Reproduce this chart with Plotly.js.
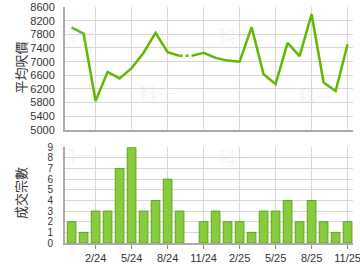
<!DOCTYPE html>
<html>
<head>
<meta charset="utf-8">
<script src="https://cdn.plot.ly/plotly-3.0.1.min.js"></script>
<style>html,body{margin:0;padding:0;background:#fff;}#chart{width:360px;height:270px;}</style>
</head>
<body>
<div id="chart"></div>
<script>
var months = ['12/23','1/24','2/24','3/24','4/24','5/24','6/24','7/24','8/24','9/24','10/24','11/24',
              '12/24','1/25','2/25','3/25','4/25','5/25','6/25','7/25','8/25','9/25','10/25','11/25'];
var price = [8000,7820,5850,6700,6510,6810,7260,7840,7280,7170,7170,7260,
             7110,7030,7000,8010,6630,6340,7550,7160,8390,6390,6140,7510];
var volume = [2,1,3,3,7,9,3,4,6,3,0,2,3,2,2,1,3,3,4,2,4,2,1,2];
var tickMonths = ['2/24','5/24','8/24','11/24','2/25','5/25','8/25','11/25'];
var priceTicks = [5000,5400,5800,6200,6600,7000,7400,7800,8200,8600];
var volumeTicks = [0,1,2,3,4,5,6,7,8,9];
var estIndex = 10; // month with no transactions (dotted link)

var idx = months.map(function(_, i){ return i; });
var tickIdx = tickMonths.map(function(m){ return months.indexOf(m); });

var lineColor = '#62b800';
var solid1X = idx.slice(0, estIndex), solid1Y = price.slice(0, estIndex);
var dotX = idx.slice(estIndex-1, estIndex+1), dotY = price.slice(estIndex-1, estIndex+1);
var solid2X = idx.slice(estIndex), solid2Y = price.slice(estIndex);

var traces = [
  {x: solid1X, y: solid1Y, type:'scatter', mode:'lines', line:{color:lineColor, width:2.5}, xaxis:'x', yaxis:'y', hoverinfo:'skip'},
  {x: dotX, y: dotY, type:'scatter', mode:'lines', line:{color:lineColor, width:2.5, dash:'dot'}, xaxis:'x', yaxis:'y', hoverinfo:'skip'},
  {x: solid2X, y: solid2Y, type:'scatter', mode:'lines', line:{color:lineColor, width:2.5}, xaxis:'x', yaxis:'y', hoverinfo:'skip'},
  {x: idx, y: volume, type:'bar', width:0.72,
   marker:{color:'#86cc3c', line:{color:'#5ea418', width: volume.map(function(v){ return v > 0 ? 1 : 0; })}},
   xaxis:'x2', yaxis:'y2', hoverinfo:'skip'}
];

var fontFam = 'Liberation Sans, Arial, sans-serif';
var xRange = [-0.55, 23.45];
var wm = [[77,33],[157,93],[236,35],[316,96],[77,155],[157,210],[236,157],[316,213]];
var annotations = wm.map(function(p){
  return {text:'科一', xref:'paper', yref:'paper', x:(p[0]-65)/288, y:(243-p[1])/236,
          showarrow:false, font:{size:18, color:'rgba(180,180,180,0.15)', family:'Noto Sans CJK TC'}, xanchor:'center', yanchor:'middle'};
});
annotations.push({text:'平均呎價', xref:'paper', yref:'paper', x:(20-65)/288, y:(243-67.5)/236, textangle:-90,
  showarrow:false, font:{size:13, color:'#333', family:'Noto Sans CJK TC'}, xanchor:'center', yanchor:'middle'});
annotations.push({text:'成交宗數', xref:'paper', yref:'paper', x:(20-65)/288, y:(243-193)/236, textangle:-90,
  showarrow:false, font:{size:13, color:'#333', family:'Noto Sans CJK TC'}, xanchor:'center', yanchor:'middle'});

var layout = {
  width:360, height:270,
  margin:{l:65, r:7, t:7, b:27},
  paper_bgcolor:'#fff', plot_bgcolor:'#fff',
  showlegend:false,
  font:{family:fontFam, size:11, color:'#333'},
  xaxis:{domain:[0,1], anchor:'y', range:xRange, tickvals:tickIdx, ticktext:tickMonths, showticklabels:false,
         showgrid:true, gridcolor:'#d8d8d8', gridwidth:1, zeroline:false, showline:true, linecolor:'#aaaaaa', linewidth:2, ticks:''},
  yaxis:{domain:[0.479,1], anchor:'x', range:[5000,8600], tickvals:priceTicks, ticktext:priceTicks.map(String),
         showgrid:true, gridcolor:'#d8d8d8', gridwidth:1, zeroline:false, showline:true, linecolor:'#aaaaaa', linewidth:2,
         ticks:'outside', ticklen:6, tickcolor:'rgba(0,0,0,0)', tickfont:{size:11, color:'#333'}},
  xaxis2:{domain:[0,1], anchor:'y2', range:xRange, tickvals:tickIdx, ticktext:tickMonths,
          showgrid:true, gridcolor:'#d8d8d8', gridwidth:1, zeroline:false, showline:true, linecolor:'#aaaaaa', linewidth:2,
          ticks:'outside', ticklen:4, tickcolor:'#888', tickfont:{size:11, color:'#333'}, ticklabeloverflow:'allow'},
  yaxis2:{domain:[0,0.4055], anchor:'x2', range:[0,9], tickvals:volumeTicks, ticktext:volumeTicks.map(String),
          showgrid:true, gridcolor:'#d8d8d8', gridwidth:1, zeroline:false, showline:true, linecolor:'#aaaaaa', linewidth:2,
          ticks:'outside', ticklen:8, tickcolor:'rgba(0,0,0,0)', tickfont:{size:10, color:'#333'}},
  annotations: annotations,
  bargap:0.28
};

Plotly.newPlot('chart', traces, layout, {staticPlot:true, displayModeBar:false});
</script>
</body>
</html>
